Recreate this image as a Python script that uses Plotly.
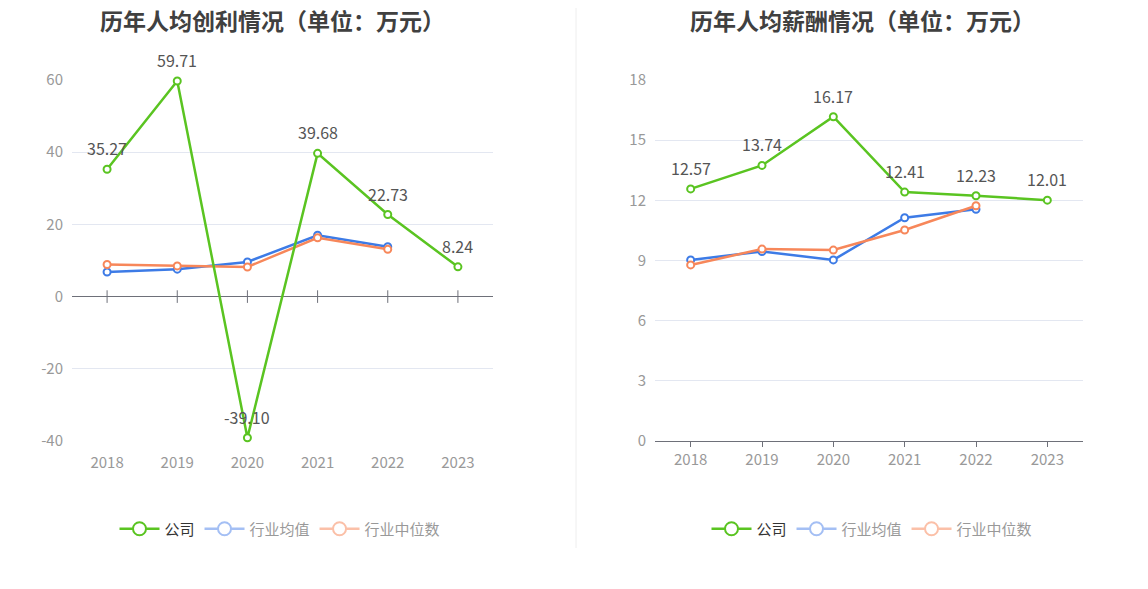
import plotly.graph_objects as go
from plotly.subplots import make_subplots

years = ['2018', '2019', '2020', '2021', '2022', '2023']

# 历年人均创利
profit_company = [35.27, 59.71, -39.10, 39.68, 22.73, 8.24]
profit_avg = [6.8, 7.6, 9.6, 17.0, 13.8]
profit_median = [8.9, 8.5, 8.2, 16.3, 13.1]
profit_ticks = [-40, -20, 0, 20, 40, 60]

# 历年人均薪酬
salary_company = [12.57, 13.74, 16.17, 12.41, 12.23, 12.01]
salary_avg = [9.03, 9.45, 9.03, 11.13, 11.55]
salary_median = [8.78, 9.57, 9.52, 10.52, 11.73]
salary_ticks = [0, 3, 6, 9, 12, 15, 18]

titles = ['历年人均创利情况（单位：万元）', '历年人均薪酬情况（单位：万元）']

GREEN = '#5ac421'
BLUE = '#3d7be6'
ORANGE = '#f7875a'
AXIS = '#6e7079'
FONT = 'Noto Sans CJK SC'
W, H = 1148, 589


# pixel positions in the screenshot -> paper fractions (page body has an 8px margin)
def px(x):
    return (x - 8) / W


def py(y):
    return 1 - (y - 8) / H


fig = make_subplots(rows=1, cols=2)


def add_line(y, color, col, labels=False):
    fig.add_trace(go.Scatter(
        x=years[:len(y)], y=y, mode='lines+markers',
        line=dict(color=color, width=2.5),
        marker=dict(symbol='circle', size=7, color='white', line=dict(color=color, width=2)),
        showlegend=False, cliponaxis=False,
    ), row=1, col=col)
    if labels:
        # category axis: annotation x is the category index
        for i, yv in enumerate(y):
            fig.add_annotation(x=i, y=yv, text='%.2f' % yv, showarrow=False, yshift=21,
                               font=dict(size=16, color='#555555', family=FONT),
                               row=1, col=col)


add_line(profit_avg, BLUE, 1)
add_line(profit_median, ORANGE, 1)
add_line(profit_company, GREEN, 1, labels=True)
add_line(salary_avg, BLUE, 2)
add_line(salary_median, ORANGE, 2)
add_line(salary_company, GREEN, 2, labels=True)

# tick marks on the zero axis of the left chart
fig.add_trace(go.Scatter(
    x=years, y=[0] * len(years), mode='markers',
    marker=dict(symbol='line-ns', size=9, line=dict(color=AXIS, width=1)),
    showlegend=False, hoverinfo='skip', cliponaxis=False,
), row=1, col=1)

# legend entries (industry entries shown faded, like the original)
legend_items = [('公司', GREEN, '#333333'), ('行业均值', '#a4bff4', '#999999'),
                ('行业中位数', '#fbc0a8', '#999999')]
for lg in ['legend', 'legend2']:
    for name, c, tc in legend_items:
        fig.add_trace(go.Scatter(
            x=[None], y=[None], mode='lines+markers',
            name='<span style="color:%s">%s</span>' % (tc, name),
            line=dict(color=c, width=2.5),
            marker=dict(symbol='circle', size=13, color='white', line=dict(color=c, width=2)),
            legend=lg,
        ), row=1, col=1 if lg == 'legend' else 2)

yd = [py(441), py(80)]
fig.update_xaxes(type='category', range=[-0.5, 5.5], showgrid=False,
                 tickfont=dict(size=15, color='#999999', family=FONT))
fig.update_xaxes(domain=[px(72), px(493)], showline=False,
                 ticks='outside', ticklen=8, tickcolor='rgba(0,0,0,0)', row=1, col=1)
fig.update_xaxes(domain=[px(655), px(1083)], showline=True, linecolor=AXIS,
                 ticks='outside', ticklen=5, tickcolor=AXIS, row=1, col=2)
fig.update_yaxes(domain=yd, gridcolor='#e3e7f1', gridwidth=1, showline=False,
                 tickfont=dict(size=15, color='#999999', family=FONT), ticklabelstandoff=8)
fig.update_yaxes(range=[-40, 60], tickvals=profit_ticks, ticktext=[str(v) for v in profit_ticks],
                 zeroline=True, zerolinecolor=AXIS, zerolinewidth=1.2, row=1, col=1)
fig.update_yaxes(range=[0, 18], tickvals=salary_ticks, ticktext=[str(v) for v in salary_ticks],
                 zeroline=False, row=1, col=2)

for i, t in enumerate(titles):
    fig.add_annotation(text='<b>%s</b>' % t, xref='paper', yref='paper',
                       x=px([272, 862][i]), y=py(20), xanchor='center', yanchor='middle',
                       borderpad=0, showarrow=False,
                       font=dict(size=23, color='#404040', family=FONT))

fig.add_shape(type='line', xref='paper', yref='paper', x0=px(576), x1=px(576),
              y0=py(548), y1=1, line=dict(color='#eeeeee', width=1))

legend_style = dict(orientation='h', xanchor='center', yanchor='middle', y=py(529),
                    font=dict(size=15, family=FONT), itemwidth=40, bgcolor='rgba(0,0,0,0)')
fig.update_layout(
    width=W, height=H,
    margin=dict(l=0, r=0, t=0, b=0, autoexpand=False),
    plot_bgcolor='white', paper_bgcolor='white',
    font=dict(family=FONT),
    legend=dict(x=px(280), **legend_style),
    legend2=dict(x=px(872), **legend_style),
)

fig.write_html('out.html')
